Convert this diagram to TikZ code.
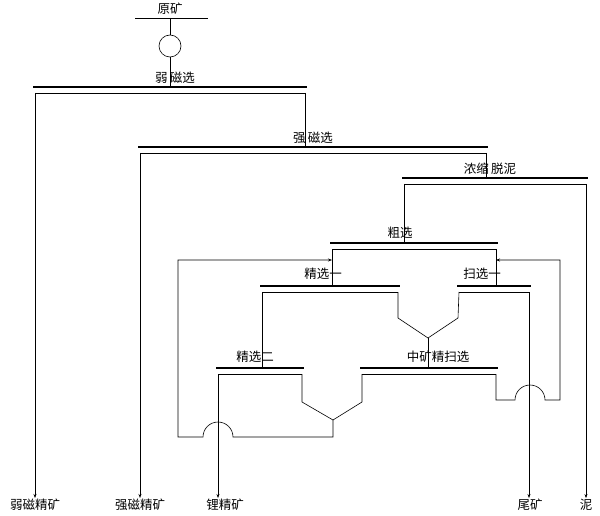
\documentclass[tikz,border=0pt]{standalone}
\usepackage{fontspec}
\newfontfamily\cjk{Noto Sans CJK SC}
\usetikzlibrary{arrows.meta}
\tikzset{
  bar/.style={line width=2.4pt},
  flow/.style={line width=0.6pt},
  tip/.style={flow,-{Stealth[length=4pt,width=3pt]}},
  lbl/.style={font=\cjk\fontsize{12.5}{13}\selectfont,inner sep=1pt},
}
\newcommand{\stage}[4]{% name, x1, x2, y
  \draw[bar] (#2,#4) -- (#3,#4);
  \draw[flow] (#2+2,#4+6) -- (#3-2,#4+6);
  \coordinate (#1-l) at (#2+2,#4+6);
  \coordinate (#1-r) at (#3-2,#4+6);
}
\begin{document}
\begin{tikzpicture}[x=1pt,y=-1pt]
  \useasboundingbox (0,0) rectangle (600,516);
  % feed
  \node[lbl] (feed) at (170,9) {原矿};
  \draw[flow] (135,18) -- (208,18);
  \node[draw,circle,minimum size=22pt,inner sep=0pt,flow] (pump) at (170,46) {};
  \draw[flow] (170,18) -- (pump.north);
  \draw[flow] (pump.south) -- (170,87);

  % stages
  \stage{wm}{33}{307}{87}
  \stage{sm}{138}{488}{147}
  \stage{nd}{402}{588}{178}
  \stage{cx}{330}{498}{243}
  \stage{ja}{260}{400}{286}
  \stage{sa}{457}{531}{286}
  \stage{jb}{216}{304}{368}
  \stage{zk}{360}{498}{368}

  \node[lbl] at (175,78) {弱\,磁选};
  \node[lbl] at (313,138) {强\,磁选};
  \node[lbl] at (490,169) {浓缩\,脱泥};
  \node[lbl] at (400,233) {粗选};
  \node[lbl] at (323,274) {精选一};
  \node[lbl] at (482,274) {扫选一};
  \node[lbl] at (255,357) {精选二};
  \node[lbl] at (438,357) {中矿精扫选};

  % products
  \node[lbl] (p1) at (35,505) {弱磁精矿};
  \node[lbl] (p2) at (140,505) {强磁精矿};
  \node[lbl] (p3) at (225,505) {锂精矿};
  \node[lbl] (p4) at (530,505) {尾矿};
  \node[lbl] (p5) at (586,505) {泥};

  \draw[tip] (wm-l) -- (p1.north -| wm-l);
  \draw[flow] (wm-r) -- (305,147);
  \draw[tip] (sm-l) -- (p2.north -| sm-l);
  \draw[flow] (sm-r) -- (486,178);
  \draw[flow] (nd-l) -- (404,243);
  \draw[tip] (nd-r) -- (p5.north -| nd-r);
  \draw[flow] (cx-l) -- (332,286);
  \draw[flow] (cx-r) -- (496,286);
  \draw[flow] (ja-l) -- (262,368);
  \draw[tip] (jb-l) -- (p3.north -| jb-l);
  \draw[tip] (sa-r) -- (p4.north -| sa-r);

  % middlings to scavenging
  \coordinate (v1) at (428,338);
  \draw[flow] (ja-r) -- (398,318) -- (v1) -- (458,318) -- (sa-l);
  \draw[flow] (v1) -- (428,368);
  \coordinate (v2) at (333,420);
  \draw[flow] (jb-r) -- (302,402) -- (v2) -- (362,402) -- (zk-l);

  % returns
  \draw[tip] (v2) -- (333,437) -- (233,437) arc[start angle=0,end angle=-180,radius=15]
    -- (178,437) -- (178,260) -- (cx-l |- 0,260);
  \draw[tip] (zk-r) -- (496,400) -- (515,400) arc[start angle=180,end angle=360,radius=15]
    -- (560,400) -- (560,260) -- (cx-r |- 0,260);
\end{tikzpicture}
\end{document}
